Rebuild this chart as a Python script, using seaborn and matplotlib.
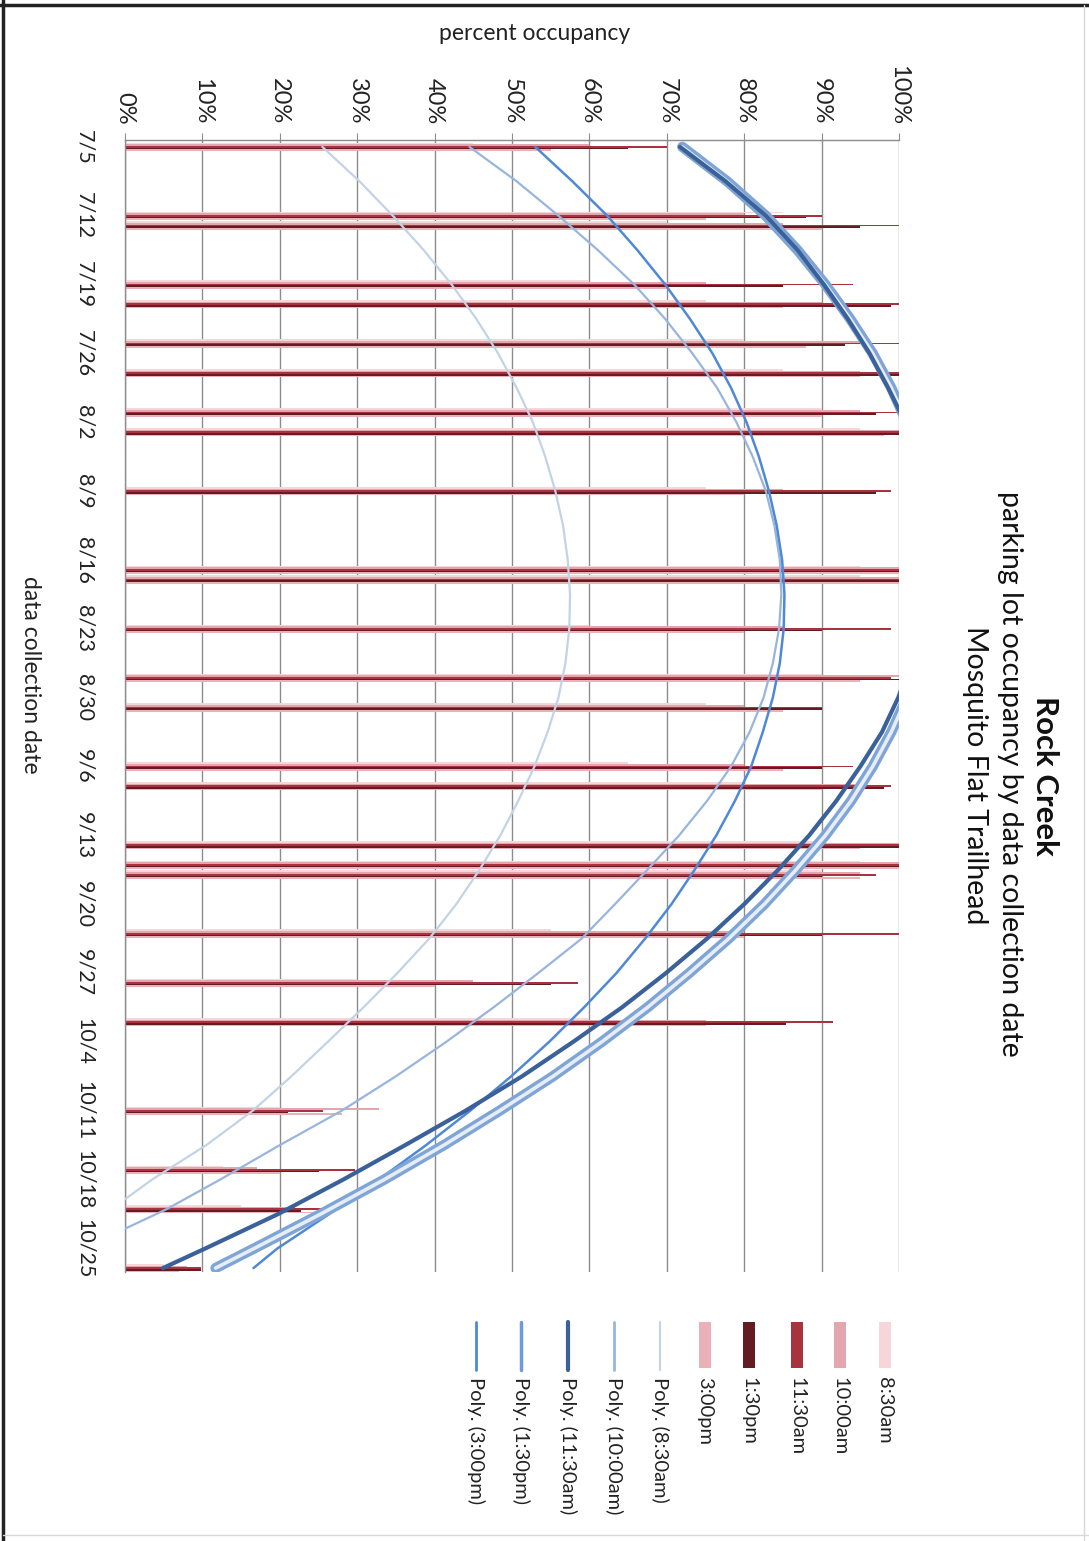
import numpy as np
import pandas as pd
import seaborn as sns
import matplotlib.pyplot as plt
import matplotlib.patheffects as pe
from matplotlib.patches import Rectangle
from matplotlib.lines import Line2D

# Data (percent occupancy per collection date and time)
YEAR = "2010"
collection_dates = ["7/5", "7/12", "7/13", "7/19", "7/21", "7/25", "7/28", "8/1", "8/3",
                    "8/9", "8/17", "8/18", "8/23", "8/28", "8/31", "9/6", "9/8", "9/14",
                    "9/16", "9/17", "9/23", "9/28", "10/2", "10/11", "10/17", "10/21", "10/27"]
times = ["8:30am", "10:00am", "11:30am", "1:30pm", "3:00pm"]
occ_0830 = [45, 85, 70, 60, 75, 80, 85, 90, 95, 75, 95, 95, 60, 90, 75, 65, 80, 90, 95, 90, 55, 30, 60, 20, 12.6, 15, 5]
occ_1000 = [60, 80, 85, 75, 90, 95, 95, 95, 100, 85, 100, 100, 85, 100, 80, 80, 95, 100, 100, 95, 80, 45, 75, 32.8, 17, 22, 8]
occ_1130 = [70, 90, 100, 94, 100, 100, 100, 100, 100, 99, 100, 100, 99, 99, 90, 94, 99, 100, 100, 97, 100, 58.5, 91.5, 25.6, 29.7, 27, 9.8]
occ_1330 = [65, 88, 95, 85, 99, 93, 100, 97, 100, 97, 100, 100, 90, 100, 90, 90, 98, 100, 100, 90, 90, 55, 85.4, 21.1, 25, 22.7, 9.8]
occ_1500 = [55, 75, 90, 70, 85, 88, 95, 90, 98, 80, 100, 100, 80, 95, 85, 85, 90, 95, 100, 95, 80, 40, 75, 28, 20, 25, 7]

# polynomial trendlines as drawn, read every half week (day offset from 7/5)
poly_0830_days = [0, 3.5, 7, 10.5, 14, 17.5, 21, 24.5, 28, 31.5, 35, 38.5, 42, 45.5, 49, 52.5,
                  56, 59.5, 63, 66.5, 70, 73.5, 77, 80.5, 84, 87.5, 91, 94.5, 98, 101.5, 105, 107]
poly_0830 = [25.5, 30.3, 34.6, 38.6, 42.2, 45.4, 48.2, 50.6, 52.7, 54.3, 55.6, 56.6, 57.2, 57.5, 57.4, 56.9,
             56, 54.6, 52.9, 50.8, 48.5, 45.8, 42.8, 39.3, 35.2, 30.8, 26.2, 21.5, 16.5, 10.5, 3.5, 0]
poly_1000_days = [0, 3.5, 7, 10.5, 14, 17.5, 21, 24.5, 28, 31.5, 35, 38.5, 42, 45.5, 49, 52.5,
                  56, 59.5, 63, 66.5, 70, 73.5, 77, 80.5, 84, 87.5, 91, 94.5, 98, 101.5, 105, 108, 110]
poly_1000 = [44.5, 50.6, 56, 61.1, 65.8, 69.8, 73.3, 76.5, 79, 81.1, 82.8, 83.9, 84.6, 84.8, 84.5, 83.7,
             82.5, 80.7, 78.3, 75.2, 71.6, 67.5, 63.3, 59, 53.4, 47.6, 41.5, 35, 28, 20, 12.3, 5.4, 0]
poly_days = [0, 3.5, 7, 10.5, 14, 17.5, 21, 24.5, 28, 31.5, 35, 38.5, 42, 45.5, 49, 52.5, 56, 59.5,
             63, 66.5, 70, 73.5, 77, 80.5, 84, 87.5, 91, 94.5, 98, 101.5, 105, 108.5, 112, 114]
poly_1130 = [71.7, 77.6, 82.8, 86.9, 90.3, 93.4, 96.2, 98.6, 100.8, 102.3, 103.3, 103.9, 104, 103.6, 102.8, 101.5, 99.9, 97.8,
             95, 91.9, 88.4, 84.4, 80, 75.2, 69.9, 64.2, 57.9, 51.3, 44, 36.2, 28.2, 19.8, 10.4, 4.9]
poly_1330 = [72, 77.8, 82.8, 86.9, 90.5, 93.7, 96.6, 99, 101, 102.5, 103.6, 104.3, 104.5, 104.3, 103.6, 102.5, 101, 99,
             96.6, 93.8, 90.5, 86.7, 82.6, 78, 72.9, 67.5, 61.6, 55.3, 48.4, 41.2, 33.5, 25.3, 16.7, 11.7]
poly_1500 = [53, 57.8, 62.3, 66.2, 69.8, 73, 75.9, 78.3, 80.3, 81.9, 83.2, 84.2, 84.9, 85.2, 85.1, 84.6, 83.7, 82.4,
             80.9, 78.8, 76.4, 73.6, 70.6, 67.2, 63.5, 59.3, 54.8, 49.9, 44.6, 38.9, 32.8, 26.4, 19.7, 16.6]

week_labels = ["7/5", "7/12", "7/19", "7/26", "8/2", "8/9", "8/16", "8/23", "8/30", "9/6",
               "9/13", "9/20", "9/27", "10/4", "10/11", "10/18", "10/25"]

bar_colors = ["#F7D6DA", "#E3A6AE", "#A8323E", "#641B21", "#EBB1B8"]
poly_colors = ["#C3D3E6", "#98B5DE", "#3A6199", "#6C9BDB", "#4F89D6"]

W, H = 1089, 1541


def fx(x):
    return x / W


def fy(y):
    return 1 - y / H


start = pd.Timestamp(f"{YEAR}-07-05")
day = [(pd.Timestamp(f"{YEAR}/{d}") - start).days for d in collection_dates]
week_days = [(pd.Timestamp(f"{YEAR}/{d}") - start).days for d in week_labels]

rows = []
for t, vals in zip(times, [occ_0830, occ_1000, occ_1130, occ_1330, occ_1500]):
    for d, v in zip(day, vals):
        rows.append({"day": d, "pct": v, "time": t})
df = pd.DataFrame(rows)

sns.set_style("white")
plt.rcParams["font.family"] = ["Lato", "DejaVu Sans"]

fig = plt.figure(figsize=(W / 100, H / 100), dpi=100)
ax = fig.add_axes([fx(125), fy(1272), fx(899) - fx(125), fy(140) - fy(1272)])

sns.barplot(data=df, x="pct", y="day", hue="time", hue_order=times, orient="h",
            native_scale=True, width=0.85, palette=bar_colors, errorbar=None,
            saturation=1, linewidth=0, legend=False, ax=ax, zorder=2)

# trendlines
trend_specs = [
    (poly_0830_days, poly_0830, poly_colors[0], 1.6, None),
    (poly_1000_days, poly_1000, poly_colors[1], 1.6, None),
    (poly_days, poly_1500, poly_colors[4], 1.8, None),
    (poly_days, poly_1330, "#E6EDF6", 2.6, [pe.Stroke(linewidth=7.5, foreground="#7FA5D6"), pe.Normal()]),
    (poly_days, poly_1130, poly_colors[2], 3.0, None),
]
for dd, vv, col, lw, effects in trend_specs:
    tdf = pd.DataFrame({"day": dd, "pct": vv})
    sns.lineplot(data=tdf, x="pct", y="day", sort=False, estimator=None, color=col,
                 linewidth=lw, ax=ax, zorder=4)
    if effects:
        ax.lines[-1].set_path_effects(effects)

ax.set_xlim(0, 100)
ax.set_ylim(114.4, -0.7)

ax.xaxis.tick_top()
ax.set_xticks(range(0, 101, 10))
ax.set_xticklabels([f"{v}%" for v in range(0, 101, 10)], rotation=-90, va="bottom", ha="center")
ax.set_yticks(week_days)
ax.set_yticklabels(week_labels, rotation=-90, va="center", ha="right")
ax.tick_params(axis="x", length=5, color="#8C8C8C", pad=6, labelsize=17, labelcolor="#222222")
ax.tick_params(axis="y", length=0, pad=22, labelsize=15.5, labelcolor="#222222")

ax.grid(axis="x", color="#8C8C8C", linewidth=1)
ax.set_axisbelow(True)
for side in ["right", "bottom"]:
    ax.spines[side].set_visible(False)
for side in ["top", "left"]:
    ax.spines[side].set_color("#8C8C8C")
    ax.spines[side].set_linewidth(1)

ax.set_xlabel("percent occupancy", fontsize=16.5, color="#222222")
ax.xaxis.set_label_position("top")
ax.xaxis.set_label_coords((535 - 125) / 774, (1272 - 33) / 1132)
ax.xaxis.label.set_va("center")
ax.set_ylabel("data collection date", fontsize=16.5, color="#222222", rotation=-90)
ax.yaxis.set_label_coords((30 - 125) / 774, (1272 - 675) / 1132)
ax.yaxis.label.set_va("center")

# title (rotated with the chart)
fig.text(fx(1045), fy(776), "Rock Creek", rotation=-90, ha="center", va="center",
         fontsize=22.5, fontweight="bold", color="#111111")
fig.text(fx(1010), fy(774), "parking lot occupancy by data collection date", rotation=-90,
         ha="center", va="center", fontsize=20.5, color="#111111")
fig.text(fx(975), fy(775), "Mosquito Flat Trailhead", rotation=-90, ha="center", va="center",
         fontsize=20.5, color="#111111")

# legend, laid out along the bottom
leg_x = [885, 840, 797, 749, 705, 660, 614, 568, 521, 476]
leg_labels = times + [f"Poly. ({t})" for t in times]
for i, (x, lab) in enumerate(zip(leg_x, leg_labels)):
    if i < 5:
        fig.add_artist(Rectangle((fx(x - 6), fy(1368)), fx(12), fy(1322) - fy(1368),
                                 color=bar_colors[i], lw=0))
    else:
        lw = [1.5, 2, 3, 2.5, 2][i - 5]
        fig.add_artist(Line2D([fx(x), fx(x)], [fy(1322), fy(1370)], color=poly_colors[i - 5], lw=lw))
    fig.text(fx(x), fy(1377), lab, rotation=-90, ha="center", va="top", fontsize=14.5, color="#222222")

# frame of the scanned page
fig.add_artist(Line2D([fx(3), fx(3)], [0, 1], color="#222222", lw=2.5))
fig.add_artist(Line2D([0, 1], [fy(5), fy(5)], color="#222222", lw=2.5))
fig.add_artist(Line2D([fx(1084), fx(1084)], [0, fy(5)], color="#D8D8D8", lw=1))
fig.add_artist(Line2D([fx(3), 1], [fy(1535), fy(1535)], color="#D8D8D8", lw=1))

fig.savefig("out.png", dpi=100, facecolor="white")
